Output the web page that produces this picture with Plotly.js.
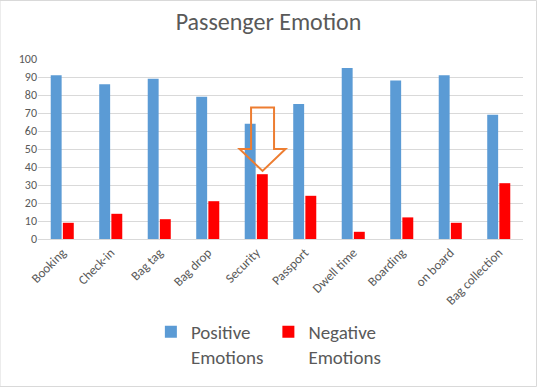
<!DOCTYPE html>
<html><head><meta charset="utf-8">
<script src="https://cdn.plot.ly/plotly-3.0.1.min.js"></script>
<style>html,body{margin:0;padding:0;background:#fff}#chart{width:537px;height:387px}</style>
</head><body><div id="chart"></div>
<script>
var categories = ["Booking","Check-in","Bag tag","Bag drop","Security","Passport","Dwell time","Boarding","on board","Bag collection"];
var positive = [91,86,89,79,64,75,95,88,91,69];
var negative = [9,14,11,21,36,24,4,12,9,31];
var yTicks = [0,10,20,30,40,50,60,70,80,90,100];

var font = "Calibri, Carlito, 'Open Sans', 'Liberation Sans', sans-serif";
var grey = "#595959";

var traces = [
  {type:"bar", name:"Positive<br>Emotions", x:categories, y:positive, marker:{color:"#5b9bd5"}, hoverinfo:"x+y"},
  {type:"bar", name:"Negative<br>Emotions", x:categories, y:negative, marker:{color:"#ff0000"}, hoverinfo:"x+y"}
];

// arrow annotation over "Security" (category index 4)
var cx = 4.13, sw = 0.237, hw = 0.474;
var arrowPath = "M " + (cx - sw) + " 73 L " + (cx + sw) + " 73 L " + (cx + sw) + " 50 L " + (cx + hw) + " 50 L " + cx + " 37.8 L " + (cx - hw) + " 50 L " + (cx - sw) + " 50 Z";

var layout = {
  width:537, height:387,
  margin:{l:38, r:14, t:59, b:148, autoexpand:false},
  paper_bgcolor:"#fff", plot_bgcolor:"#fff",
  title:{text:"Passenger Emotion", font:{family:font, size:24, color:grey}, x:0.5, xanchor:"center", y:0.943, yanchor:"middle"},
  font:{family:font, color:grey},
  barmode:"group", bargap:0.5, bargroupgap:0.1,
  xaxis:{type:"category", automargin:false, tickangle:-45, tickfont:{size:13, color:grey}, showline:true, linecolor:"#d9d9d9", linewidth:1, ticks:"", showgrid:false},
  yaxis:{range:[0,100], automargin:false, tickvals:yTicks, ticktext:yTicks.map(String), tickfont:{size:12, color:grey}, showgrid:true, gridcolor:"#d9d9d9", gridwidth:1, zeroline:false, showline:false, ticks:"", ticklen:0},
  showlegend:true,
  legend:{orientation:"h", x:0.475, xanchor:"center", y:-0.41, yanchor:"top", valign:"top", font:{size:19, color:grey}, itemwidth:30, itemsizing:"constant", traceorder:"normal"},
  shapes:[
    {type:"path", xref:"x", yref:"y", path:arrowPath, line:{color:"#ed7d31", width:2}, fillcolor:"rgba(0,0,0,0)"},
    {type:"rect", xref:"paper", yref:"paper", x0:-38/485, x1:1+13.5/485, y0:-147.5/180, y1:1+58.5/180, line:{color:"#d9d9d9", width:1}, fillcolor:"rgba(0,0,0,0)", layer:"below"}
  ]
};
Plotly.newPlot("chart", traces, layout, {displayModeBar:false, staticPlot:true});
</script></body></html>
